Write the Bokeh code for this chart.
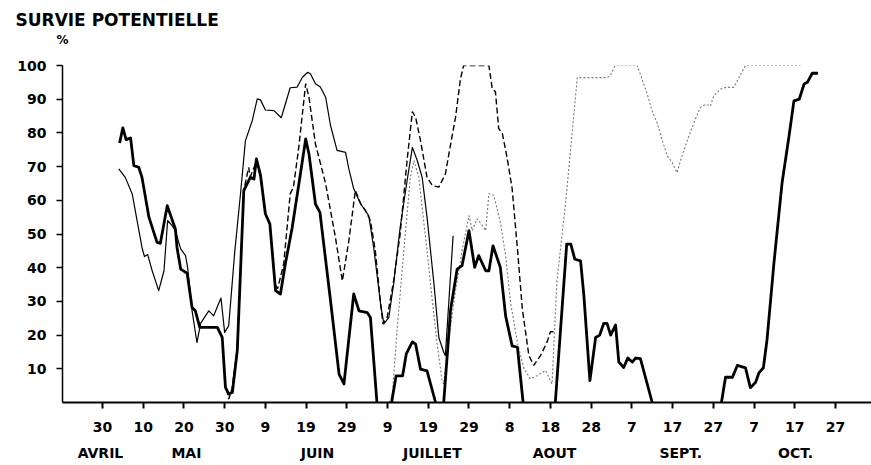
from bokeh.plotting import figure
from bokeh.models import Range1d, FixedTicker, LinearAxis
from bokeh.embed import file_html
from bokeh.resources import INLINE

nan = float("nan")

# x = days counted from 30 April
tick_days = [0, 10, 20, 30, 40, 50, 60, 70, 80, 90, 100, 110, 120, 130, 140, 150, 160, 170, 180]
tick_labels = ["30", "10", "20", "30", "9", "19", "29", "9", "19", "29",
               "8", "18", "28", "7", "17", "27", "7", "17", "27"]
month_names = ["AVRIL", "MAI", "JUIN", "JUILLET", "AOUT", "SEPT.", "OCT."]
month_centers = [-0.5, 20.6, 52.8, 81.0, 111.0, 142.0, 170.2]
y_ticks = [10, 20, 30, 40, 50, 60, 70, 80, 90, 100]

# thick line (several segments, gaps = at zero)
thick_days = [4.2, 5.0, 5.8, 6.9, 7.7, 8.9, 9.7, 11.4, 13.4, 14.2, 15.9, 17.9, 18.3, 19.2, 20.8,
              22.0, 22.8, 23.9, 28.2, 29.4, 30.2, 31.0, 31.9, 33.1, 34.7, 36.3, 37.2, 37.8, 38.8,
              40.0, 41.1, 42.5, 43.7, 44.9, 46.6, 48.6, 49.9, 50.7, 52.3, 53.4, 56.0, 58.1, 59.3,
              61.7, 63.0, 65.0, 65.8, 67.4, nan,
              71.0, 72.1, 73.7, 74.6, 76.1, 76.9, 78.1, 79.7, 81.8, nan,
              83.8, 85.5, 87.1, 88.3, 90.0, 91.4, 92.4, 94.1, 94.9, 95.9, 97.7, 99.0, 100.6, 101.9,
              103.3, nan,
              111.2, 114.0, 115.0, 116.0, 117.4, 118.2, 119.7, 121.1, 122.1, 123.1, 123.9, 124.8,
              126.0, 126.8, 128.0, 129.0, 130.1, 130.9, 132.1, 135.0, nan,
              152.0, 153.0, 154.7, 155.9, 157.9, 159.1, 160.4, 161.2, 162.3, 163.2, 164.9, 166.9,
              168.6, 169.8, 171.1, 172.3, 173.1, 174.3, 175.7]
thick_vals = [77, 81.5, 78, 78.5, 70.3, 69.8, 66.8, 55, 47.5, 47.2, 58.4, 51.5, 46, 39.6, 38.3,
              28.2, 27.2, 22.3, 22.3, 19.3, 4.5, 2.5, 3.0, 15.4, 62.9, 66.8, 66.3, 72.3, 67.5,
              56, 53, 33.2, 32.2, 41.1, 52, 67.8, 78.2, 73.8, 58.9, 56.4, 30.2, 8.4, 5.5,
              32.2, 27.2, 26.7, 25.2, 0, nan,
              0, 7.9, 7.9, 14.4, 18.0, 17.3, 9.9, 9.4, 0, nan,
              0, 27.7, 39.6, 40.6, 51, 40.1, 43.6, 39.1, 39.1, 46.5, 40.1, 25.7, 16.8, 16.4,
              0, nan,
              0, 47, 47, 42.5, 42, 32, 6.5, 19.3, 20, 23.5, 23.5, 20,
              23, 12, 10.4, 13.2, 12, 13.2, 13, 0, nan,
              0, 7.5, 7.5, 11, 10.3, 4.4, 6, 8.8, 10.3, 18.7, 41.5, 65.3,
              79.1, 89.5, 90, 94.5, 95, 97.7, 97.7]

# thin solid line
thin_days = [4.0, 5.6, 7.3, 8.5, 9.7, 10.3, 11.1, 12.2, 13.8, 15.1, 16.0, 17.1, 17.9, 19.2, 20.4,
             20.9, 22.0, 23.2, 24.1, 26.1, 27.3, 28.2, 29.1, 30.0, 31.0, 32.5, 33.9, 35.1, 36.8,
             38.0, 38.8, 40.0, 42.1, 43.9, 46.1, 47.8, 49.1, 50.4, 51.1, 52.3, 53.5, 54.8, 56.0,
             57.6, 59.7, 60.5, 61.7, 63.4, 64.6, 65.4, 66.6, 68.3, 69.1, 70.3, 71.5, 73.1, 74.8,
             76.1, 77.3, 78.5, 79.7, 81.4, 82.6, 83.8, 84.2, 86.1]
thin_vals = [69.3, 66.8, 61.9, 54, 46, 43.3, 43.9, 39.1, 33.2, 39.1, 54, 52.5, 51, 45.6, 43.6,
             40.1, 27.2, 17.8, 23.5, 27.2, 25.7, 28.4, 31.0, 20.8, 22.8, 45, 62, 77.7, 83.7,
             90.1, 89.8, 86.8, 86.6, 84.5, 93.4, 93.6, 96.5, 98, 97.5, 94.6, 93.6, 90.6, 82.2,
             74.8, 74.2, 69.3, 63.4, 58.9, 56.9, 55.4, 46, 29.2, 23.3, 25.2, 35.2, 52, 65.8,
             75.7, 71.8, 66.8, 55, 35.2, 19.3, 14.9, 13.9, 49.5]

# dashed line
dash_days = [30.5, 31.0, 31.8, 33.1, 34.7, 35.9, 36.3, 37.8, 38.8, 40.0, 41.1, 42.5, 43.0, 44.5,
             46.1, 46.9, 48.2, 49.9, 50.7, 52.3, 54.8, 57.2, 58.9, 60.5, 62.1, 63.4, 64.6, 65.8,
             67.0, 68.3, 68.9, 69.9, 71.5, 73.1, 74.8, 76.1, 76.9, 78.1, 79.7, 81.0, 82.6, 84.2,
             85.5, 86.7, 87.9, 88.7, 94.9, 95.7, 96.5, 97.3, 98.2, 99.4, 100.6, 101.9, 103.1,
             104.7, 105.9, 107.6, 109.2, 110.0, 110.8]
dash_vals = [4, 1, 4, 16, 63, 69.8, 67, 71.5, 67, 56, 53, 35, 33.7, 41.1,
             61.9, 63.9, 75.7, 94.6, 90.6, 76.7, 64.9, 49, 36.1, 48, 62.9, 59, 56.9, 54,
             45, 29.2, 23.3, 25.2, 36.1, 50, 71.8, 86.3, 84.6, 77.7, 66.8, 64.4, 63.9, 67.8,
             76.7, 84.6, 96, 100, 100, 93.2, 92.2, 81.3, 79.8, 72.4, 63.5, 45.6, 27.8,
             14, 11, 14, 18, 21, 21]

# dotted line
dot_days = [70.3, 71.1, 72.4, 74.0, 75.6, 76.5, 77.7, 78.5, 79.7, 81.0, 82.2, 83.4, 83.8, 85.0,
            86.7, 88.3, 90.0, 90.8, 92.0, 93.0, 94.1, 94.9, 96.1, 97.7, 99.0, 100.2, 101.9,
            103.5, 105.1, 106.8, 108.8, 110.4, 111.6, 113.7, 116.6, 123.9, 124.7, 125.9, 131.3,
            132.5, 133.8, 135.0, 136.2, 137.4, 138.7, 139.9, 141.1, 142.3, 144.0, 145.6, 146.8,
            148.1, 149.3, 150.1, 151.8, 153.0, 155.0, 157.9, 171.4]
dot_vals = [0, 1.5, 22.3, 45, 66.8, 71.8, 66.8, 57.9, 45, 30.2, 17.3, 6.4, 5.5, 18.3,
            33.2, 45, 55.5, 51, 54.5, 53, 51, 62, 61.5, 53.5, 43.6, 29.7, 17.8,
            10, 7, 8, 9.5, 5.5, 36, 59, 96.4, 96.4, 97, 100, 100,
            96, 91.4, 86.4, 83, 78, 73.2, 71.2, 68.2, 73.2, 79.1, 84.1, 87.5,
            88.5, 88, 91, 93, 93.5, 93.5, 100, 100]

title_text = "SURVIE POTENTIELLE"
unit_text = "%"

FONT = "DejaVu Sans"
INK = "black"
X0, X1 = -9.82, 188.85

p = figure(width=871, height=465, x_range=Range1d(X0, X1), y_range=Range1d(0, 100),
           output_backend="svg", toolbar_location=None,
           min_border_left=62, min_border_right=0, min_border_top=65, min_border_bottom=63,
           title=title_text)
p.xgrid.visible = False
p.ygrid.visible = False
p.outline_line_color = None
p.background_fill_color = "white"
p.border_fill_color = "white"

p.title.align = "left"
p.title.offset = -47
p.title.text_font = FONT
p.title.text_font_size = "17px"
p.title.text_font_style = "bold"
p.title.text_color = INK
p.title.standoff = 0

# main (day) axis below the frame
xa = p.below[0]
xa.ticker = FixedTicker(ticks=tick_days)
xa.major_label_overrides = {d: l for d, l in zip(tick_days, tick_labels)}
xa.axis_line_width = 2
xa.axis_line_color = INK
xa.major_tick_line_width = 2
xa.major_tick_line_color = INK
xa.major_tick_out = 6
xa.major_tick_in = 0
xa.minor_tick_line_color = None
xa.major_label_standoff = 13
xa.major_label_text_font = FONT
xa.major_label_text_font_size = "14px"
xa.major_label_text_font_style = "bold"
xa.major_label_text_color = INK

# month names under the day numbers
month_axis = LinearAxis(ticker=FixedTicker(ticks=month_centers),
                        major_label_overrides={c: n for c, n in zip(month_centers, month_names)},
                        axis_line_color=None, major_tick_line_color=None,
                        minor_tick_line_color=None, major_tick_out=0, major_tick_in=0,
                        major_label_standoff=10, major_label_text_font=FONT,
                        major_label_text_font_size="14px", major_label_text_font_style="bold",
                        major_label_text_color=INK)
p.add_layout(month_axis, "below")

# unit "%" shown above the top of the y axis, via a label-only axis above the frame
unit_tick = X0 + 0.02
unit_axis = LinearAxis(ticker=FixedTicker(ticks=[unit_tick]),
                       major_label_overrides={unit_tick: unit_text},
                       axis_line_color=None, major_tick_line_color=None,
                       minor_tick_line_color=None, major_tick_out=0, major_tick_in=0,
                       major_label_standoff=19, major_label_text_font=FONT,
                       major_label_text_font_size="12px", major_label_text_font_style="bold",
                       major_label_text_color=INK)
p.add_layout(unit_axis, "above")

ya = p.left[0]
ya.ticker = FixedTicker(ticks=y_ticks)
ya.axis_line_width = 1.5
ya.axis_line_color = INK
ya.major_tick_line_width = 1.5
ya.major_tick_line_color = INK
ya.major_tick_out = 6
ya.major_tick_in = 0
ya.minor_tick_line_color = None
ya.major_label_standoff = 10
ya.major_label_text_font = FONT
ya.major_label_text_font_size = "14px"
ya.major_label_text_font_style = "bold"
ya.major_label_text_color = INK

p.line(dot_days, dot_vals, line_color="#777777", line_width=1.1, line_dash="2 2")
p.line(dash_days, dash_vals, line_color=INK, line_width=1.4, line_dash="6 3")
p.line(thin_days, thin_vals, line_color=INK, line_width=1.2, line_join="round")
p.line(thick_days, thick_vals, line_color=INK, line_width=2.8, line_join="round")

open("out.html", "w").write(file_html(p, INLINE))
